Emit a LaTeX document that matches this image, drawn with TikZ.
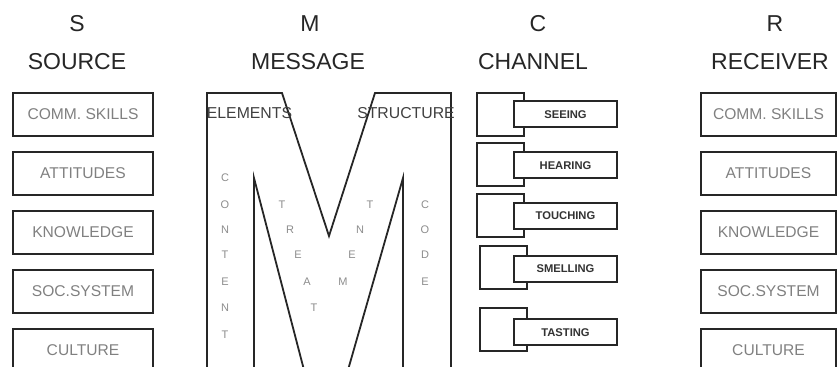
\documentclass[tikz,border=0pt]{standalone}
\usepackage{fontspec}
\setmainfont{Liberation Sans}

\tikzset{
  head/.style={text=black!85, font=\fontsize{11.5}{13}\selectfont},
  attrbox/.style={draw=black!85, line width=1pt, minimum width=70pt, minimum height=21.5pt,
    inner sep=0pt, text=black!50, font=\fontsize{7.8}{9}\selectfont},
  backsq/.style={draw=black!85, line width=1pt, minimum width=23.5pt, minimum height=21.5pt, inner sep=0pt},
  sensebox/.style={draw=black!85, line width=1pt, fill=white, minimum width=51.5pt, minimum height=13pt,
    inner sep=0pt, text=black!80, font=\bfseries\fontsize{5.6}{7}\selectfont},
  mlabel/.style={text=black!75, font=\fontsize{7.9}{9}\selectfont, inner sep=0pt},
  mletter/.style={text=black!45, font=\fontsize{5.5}{6}\selectfont, inner sep=0pt}
}

\begin{document}
\begin{tikzpicture}[x=0.5pt, y=-0.5pt]
  \clip (0,0) rectangle (837,367);

  % Headings
  \node[head] (s) at (77,24) {S};
  \node[head] (source) at (77,62) {SOURCE};
  \node[head] (m) at (310,24) {M};
  \node[head] (message) at (308,62) {MESSAGE};
  \node[head] (c) at (538,24) {C};
  \node[head] (channel) at (533,62) {CHANNEL};
  \node[head] (r) at (775,24) {R};
  \node[head] (receiver) at (770,62) {RECEIVER};

  % Source and receiver columns
  \foreach \txt [count=\i] in {COMM. SKILLS, ATTITUDES, KNOWLEDGE, SOC.SYSTEM, CULTURE} {
    \node[attrbox] (src\i) at (83,{114.5+(\i-1)*59}) {\txt};
    \node[attrbox, minimum width=67.5pt] (rcv\i) at (768.5,{114.5+(\i-1)*59}) {\txt};
  }

  % The big M of the message
  \draw[black!85, line width=0.9pt, line join=miter]
    (207,370) -- (207,93) -- (282,93) -- (329,236) -- (375,93) -- (451,93) -- (451,370);
  \draw[black!85, line width=0.9pt] (254,370) -- (254,178) -- (304,370);
  \draw[black!85, line width=0.9pt] (348,370) -- (403,178) -- (403,370);

  \node[mlabel] (elements) at (249.5,113) {ELEMENTS};
  \node[mlabel] (structure) at (406,113) {STRUCTURE};

  % Content, treatment, code
  \foreach \ch/\y [count=\i] in {C/178, O/205, N/230, T/255, E/282, N/308, T/335}
    \node[mletter] (content\i) at (225,\y) {\ch};
  \foreach \ch/\y [count=\i] in {C/205, O/230, D/255, E/282}
    \node[mletter] (code\i) at (425,\y) {\ch};
  \foreach \ch/\x/\y [count=\i] in {T/282/205, R/290/230, E/298/255, A/307/282, T/314/308,
      M/343/282, E/352/255, N/360/230, T/370/205}
    \node[mletter] (treat\i) at (\x,\y) {\ch};

  % Channel: the five senses
  \foreach \sx/\sy/\fy/\txt [count=\i] in {500.5/114.5/114.5/SEEING, 500.5/165/165.5/HEARING,
      500.5/216/216/TOUCHING, 503.5/267.5/269/SMELLING, 503.5/330/332.5/TASTING} {
    \node[backsq] (sq\i) at (\sx,\sy) {};
    \node[sensebox] (sense\i) at (565.5,\fy) {\txt};
  }
\end{tikzpicture}
\end{document}
